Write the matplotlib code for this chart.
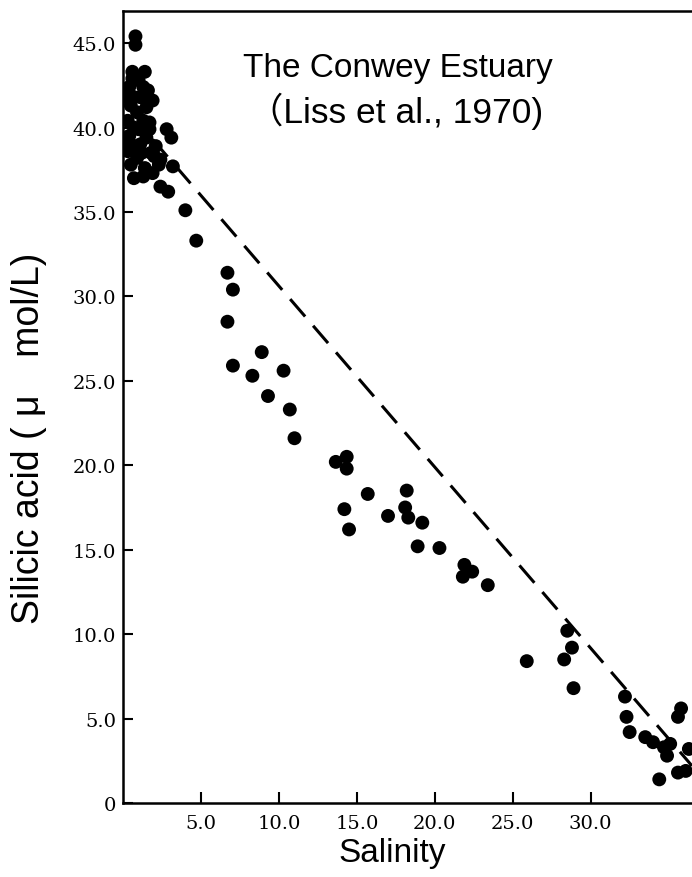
import numpy as np
import matplotlib
matplotlib.use("Agg")
import matplotlib.pyplot as plt

# salinity / silicic acid readings (Liss et al., 1970, Conwey estuary)
salinity = [0.8, 0.8, 0.6, 1.4,
            0.4, 0.5, 0.3, 0.4, 0.3, 0.5,
            1.0, 1.1, 0.9, 1.0, 1.1, 0.9,
            1.6, 1.5, 1.7, 1.5, 1.8, 1.4,
            2.1, 2.3, 1.9, 0.7, 1.3, 2.4, 3.2,
            2.8, 3.1, 2.4, 2.9,
            0.2, 0.2, 0.7, 0.7, 0.7, 1.3, 1.2, 1.9, 1.3, 0.6, 1.7, 2.0,
            4.0, 4.7, 6.7, 7.05, 6.7, 8.9, 7.05, 8.3, 10.3, 9.3, 10.7, 11.0,
            13.65, 14.35, 14.35, 15.7, 14.2, 14.5, 18.2, 17.0, 18.1, 18.3, 19.2,
            18.9, 20.3, 21.9, 22.4, 21.8, 23.4,
            25.9, 28.5, 28.8, 28.3, 28.9, 32.2, 32.3, 32.5, 33.5, 34.0, 34.7,
            34.9, 35.1, 34.4, 35.8, 35.6, 36.3, 35.6, 36.1]
silicic = [45.4, 44.9, 43.3, 43.3,
           42.4, 41.3, 40.4, 39.5, 38.6, 37.8,
           42.8, 41.8, 40.9, 39.9, 39.0, 38.2,
           42.2, 41.2, 40.3, 39.4, 38.5, 37.6,
           38.9, 37.8, 37.3, 37.0, 37.1, 38.1, 37.7,
           39.9, 39.4, 36.5, 36.2,
           41.8, 39.0, 41.8, 40.0, 38.9, 40.4, 38.5, 41.6, 42.4, 42.9, 39.9, 38.3,
           35.1, 33.3, 31.4, 30.4, 28.5, 26.7, 25.9, 25.3, 25.6, 24.1, 23.3, 21.6,
           20.2, 20.5, 19.8, 18.3, 17.4, 16.2, 18.5, 17.0, 17.5, 16.9, 16.6,
           15.2, 15.1, 14.1, 13.7, 13.4, 12.9,
           8.4, 10.2, 9.2, 8.5, 6.8, 6.3, 5.1, 4.2, 3.9, 3.6, 3.3,
           2.8, 3.5, 1.4, 5.6, 5.1, 3.2, 1.8, 1.9]

# theoretical dilution line end points
mix_s = [1.9, 36.5]
mix_si = [39.3, 2.2]

yticks = [0, 5, 10, 15, 20, 25, 30, 35, 40, 45]
ytick_labels = ["0", "5.0", "10.0", "15.0", "20.0", "25.0", "30.0", "35.0", "40.0", "45.0"]
xticks = [5, 10, 15, 20, 25, 30]
xtick_labels = ["5.0", "10.0", "15.0", "20.0", "25.0", "30.0"]

fig = plt.figure(figsize=(6.92, 8.78), dpi=100)
ax = fig.add_axes([123/692, 74/878, 569/692, 792/878])

ax.plot(mix_s, mix_si, color="black", lw=2.2, dashes=(7.5, 4), zorder=2)
ax.scatter(salinity, silicic, s=100, color="black", edgecolors="none", zorder=3)

ax.set_xlim(0, 36.5)
ax.set_ylim(0, 46.9)

ax.set_xticks(xticks)
ax.set_xticklabels(xtick_labels, fontfamily="DejaVu Serif", fontsize=14)
ax.set_yticks(yticks)
ax.set_yticklabels(ytick_labels, fontfamily="DejaVu Serif", fontsize=14)
ax.tick_params(axis="x", direction="in", length=8, width=1.5, pad=8)
ax.tick_params(axis="y", direction="in", length=7, width=1.5, pad=5)

ax.spines["right"].set_visible(False)
for sp in ["left", "bottom", "top"]:
    ax.spines[sp].set_linewidth(1.8)

fam = ["Liberation Sans", "Noto Sans CJK SC"]
fig.text(398/692, 1 - 77/878, "The Conwey Estuary", ha="center", va="baseline",
         fontsize=24, family=fam)
fig.text(396/692, 1 - 123/878, "（Liss et al., 1970)", ha="center", va="baseline",
         fontsize=25.5, family=fam)

fig.text(392/692, 1 - 862/878, "Salinity", ha="center", va="baseline",
         fontsize=24, family=fam)
fig.text(29/692, 1 - 438/878, "Silicic acid ( μ\u3000mol/L)", ha="center", va="center",
         rotation=90, fontsize=27, family=fam)

fig.savefig("out.png", dpi=100)
